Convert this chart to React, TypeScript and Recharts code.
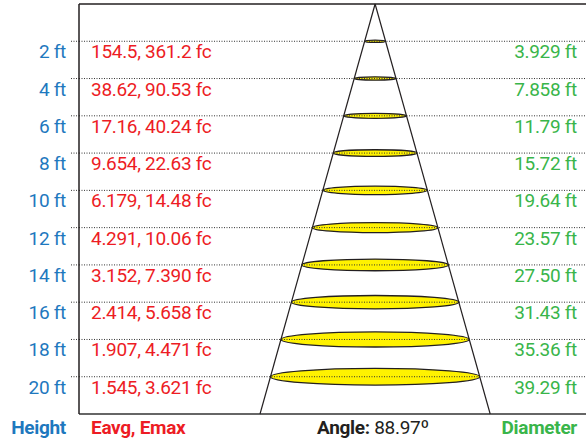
import { ComposedChart, XAxis, YAxis, ReferenceLine, ReferenceArea } from 'recharts';

const heights = [2, 4, 6, 8, 10, 12, 14, 16, 18, 20];
const heightLabels = ['2 ft', '4 ft', '6 ft', '8 ft', '10 ft', '12 ft', '14 ft', '16 ft', '18 ft', '20 ft'];
const illuminance = [
  '154.5, 361.2 fc', '38.62, 90.53 fc', '17.16, 40.24 fc', '9.654, 22.63 fc', '6.179, 14.48 fc',
  '4.291, 10.06 fc', '3.152, 7.390 fc', '2.414, 5.658 fc', '1.907, 4.471 fc', '1.545, 3.621 fc',
];
const diameters = [3.929, 7.858, 11.79, 15.72, 19.64, 23.57, 27.5, 31.43, 35.36, 39.29];
const diameterLabels = ['3.929 ft', '7.858 ft', '11.79 ft', '15.72 ft', '19.64 ft', '23.57 ft', '27.50 ft', '31.43 ft', '35.36 ft', '39.29 ft'];
const angleText = '88.97º';

const BLUE = '#1e78be';
const RED = '#ed1c24';
const GREEN = '#39b54a';
const INK = '#231f20';
const FONT = 'Roboto, sans-serif';

const W = 586;
const H = 443;
const MAX_H = 22;

// beam spread: radius per foot of height, from the last row
const slope = diameters[diameters.length - 1] / 2 / heights[heights.length - 1];
const edge = slope * MAX_H;

const rows = heights.map((h, i) => ({ h, d: diameters[i] }));

function RowTick(props: any) {
  const { x, y, payload } = props;
  const i = heights.indexOf(payload.value);
  if (i < 0) return null;
  const base = y + 17;
  const txt = { fontFamily: FONT, fontSize: 19, letterSpacing: -0.3 } as const;
  return (
    <g>
      <text x={x} y={base} textAnchor="end" fill={BLUE} {...txt}>{heightLabels[i]}</text>
      <text x={x + 25} y={base} textAnchor="start" fill={RED} {...txt}>{illuminance[i]}</text>
      <text x={W - 9} y={base} textAnchor="end" fill={GREEN} {...txt}>{diameterLabels[i]}</text>
    </g>
  );
}

function Footer() {
  const txt = { fontFamily: FONT, fontSize: 19, letterSpacing: -0.3 } as const;
  return (
    <g>
      <text x={66} y={434} textAnchor="end" fill={BLUE} fontWeight={700} {...txt}>Height</text>
      <text x={91} y={434} fill={RED} fontWeight={700} {...txt}>Eavg, Emax</text>
      <text x={317} y={434} fill={INK} {...txt}>
        <tspan fontWeight={700}>Angle:</tspan> {angleText}
      </text>
      <text x={W - 9} y={434} textAnchor="end" fill={GREEN} fontWeight={700} {...txt}>Diameter</text>
    </g>
  );
}

function Beam(props: any) {
  const { x, y, width, height } = props;
  const rx = width / 2;
  return (
    <ellipse
      cx={x + rx}
      cy={y + height / 2}
      rx={rx}
      ry={Math.max(rx * 0.08, 1.2)}
      fill="#fff200"
      stroke={INK}
      strokeWidth={1.3}
    />
  );
}

export default function App() {
  return (
    <div style={{ position: 'fixed', left: 0, top: 0, background: '#fff' }}>
      <ComposedChart width={W} height={H} data={rows} margin={{ top: 4, right: 0, bottom: 29, left: 0 }}>
        <XAxis type="number" dataKey="d" domain={[-55.6, 39.6]} hide allowDataOverflow />
        <YAxis
          type="number"
          dataKey="h"
          domain={[0, MAX_H]}
          reversed
          ticks={heights}
          interval={0}
          width={79}
          tickSize={8}
          tickMargin={5}
          tickLine={{ stroke: '#333', strokeDasharray: '1 1.5' }}
          axisLine={{ stroke: INK, strokeWidth: 1.5 }}
          tick={<RowTick />}
          allowDataOverflow
        />
        {heights.map((h) => (
          <ReferenceLine key={`g${h}`} y={h} stroke="#333" strokeDasharray="1 1.5" />
        ))}
        <ReferenceLine y={0} stroke={INK} strokeWidth={1.5} />
        <ReferenceLine y={MAX_H} stroke="#666" strokeWidth={2} />
        <ReferenceLine segment={[{ x: 0, y: 0 }, { x: -edge, y: MAX_H }]} stroke={INK} strokeWidth={1.2} />
        <ReferenceLine segment={[{ x: 0, y: 0 }, { x: edge, y: MAX_H }]} stroke={INK} strokeWidth={1.2} />
        {rows.map((r) => (
          <ReferenceArea
            key={`e${r.h}`}
            x1={-r.d / 2}
            x2={r.d / 2}
            y1={r.h - 0.2}
            y2={r.h + 0.2}
            shape={<Beam />}
          />
        ))}
        <Footer />
      </ComposedChart>
    </div>
  );
}
